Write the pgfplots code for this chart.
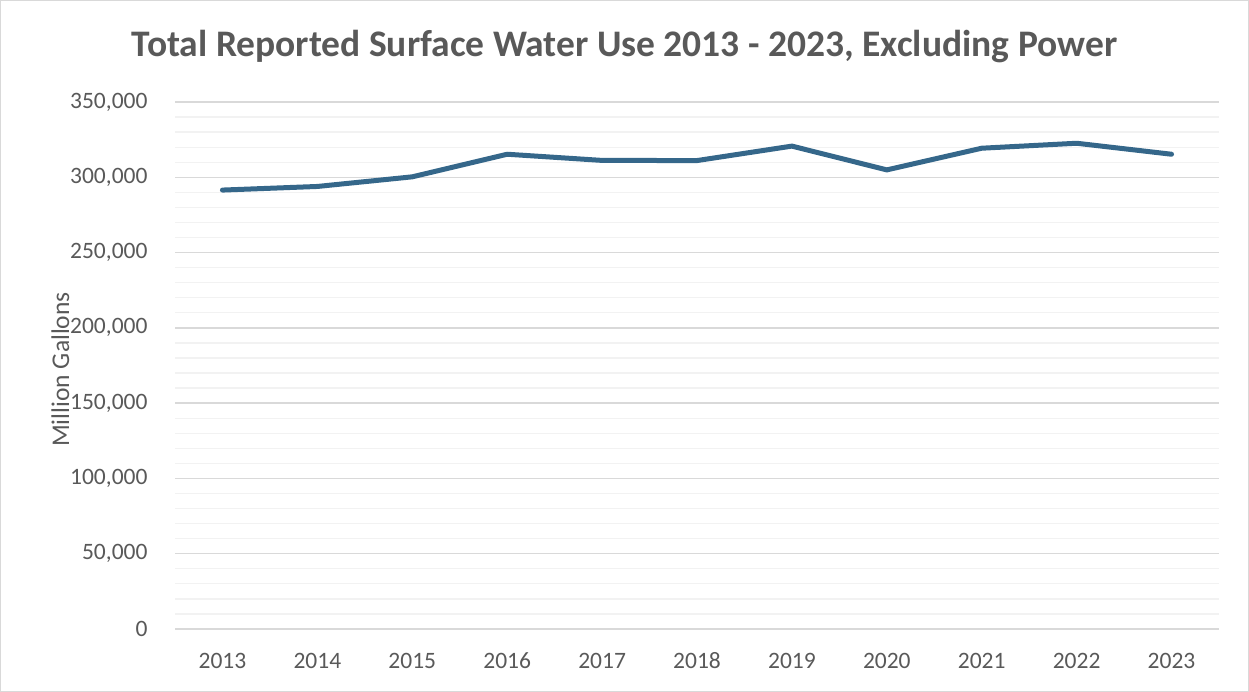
\documentclass[border=0pt]{standalone}
\usepackage{pgfplots}
\pgfplotsset{compat=1.18}
\usepackage{fontspec}
\setmainfont{Carlito}
\definecolor{txt}{HTML}{595959}
\definecolor{major}{HTML}{D9D9D9}
\definecolor{minor}{HTML}{F2F2F2}
\definecolor{linec}{HTML}{35678A}
\begin{document}
\begin{tikzpicture}[x=1pt,y=1pt]
\draw[major, line width=1pt] (0.5,0.5) rectangle (1248.5,691.5);
\node[font=\fontsize{37.5}{42}\selectfont\bfseries, text=txt] at (624.5,645) {Total Reported Surface Water Use 2013 - 2023, Excluding Power};
\begin{axis}[
  at={(175pt,63pt)}, anchor=south west,
  scale only axis, width=1044pt, height=527pt,
  xmin=-0.5, xmax=10.5, ymin=0, ymax=350000,
  xtick={0,...,10},
  xticklabels={2013,2014,2015,2016,2017,2018,2019,2020,2021,2022,2023},
  ytick={0,50000,100000,150000,200000,250000,300000,350000},
  yticklabels={0,{50,000},{100,000},{150,000},{200,000},{250,000},{300,000},{350,000}},
  minor ytick={10000,20000,...,340000},
  scaled y ticks=false,
  ymajorgrids, yminorgrids,
  major grid style={major, line width=1.3pt},
  minor grid style={minor, line width=1.3pt},
  axis line style={draw=none},
  major tick length=0pt, minor tick length=0pt,
  tick label style={font=\fontsize{23.5}{28}\selectfont, text=txt},
  yticklabel style={xshift=-24pt},
  xticklabel style={anchor=north, yshift=-20pt, text height=16pt, text depth=0pt},
  ylabel={Million Gallons},
  every axis y label/.style={at={(ticklabel cs:0.5)}, rotate=90, anchor=south, xshift=-4pt, yshift=-6pt, font=\fontsize{25.5}{30}\selectfont, text=txt},
  clip=false,
]
\addplot[linec, line width=5pt, line join=round, line cap=round] coordinates {
(0,291500) (1,293900) (2,300300) (3,315300) (4,311200) (5,311100) (6,320700) (7,304900) (8,319300) (9,322600) (10,315300)
};
\end{axis}
\end{tikzpicture}
\end{document}
